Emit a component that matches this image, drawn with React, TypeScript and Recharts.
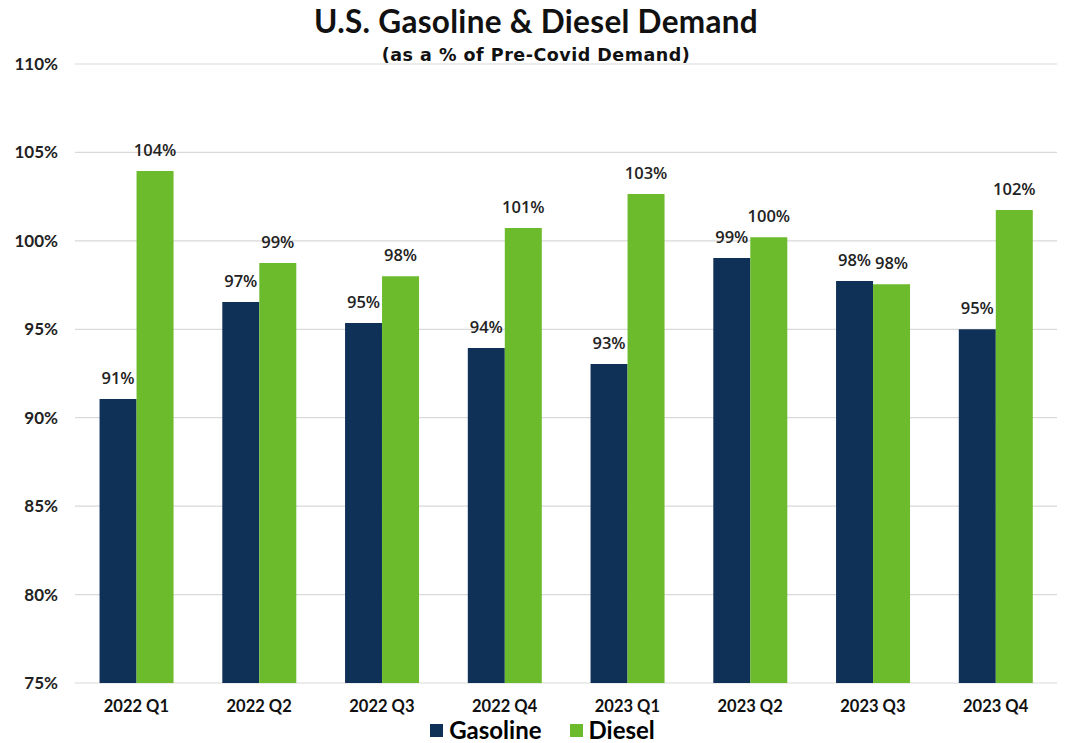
import { Bar, BarChart, CartesianGrid, LabelList, Legend, XAxis, YAxis } from "recharts";

const quarters = ["2022 Q1", "2022 Q2", "2022 Q3", "2022 Q4", "2023 Q1", "2023 Q2", "2023 Q3", "2023 Q4"];
const gasoline = [91.06, 96.54, 95.35, 93.94, 93.04, 99.03, 97.73, 95.0];
const diesel = [103.95, 98.75, 98.0, 100.73, 102.65, 100.2, 97.55, 101.74];
const yTicks = [75, 80, 85, 90, 95, 100, 105, 110];

const NAVY = "#0f3158";
const GREEN = "#6cbb2c";
const AXIS_FONT = "Lato, 'Open Sans', sans-serif";
const LABEL_FONT = "'Open Sans', 'Noto Sans', sans-serif";

const data = quarters.map((q, i) => ({ quarter: q, Gasoline: gasoline[i], Diesel: diesel[i] }));

const pct = (v: unknown) => `${Math.round(Number(v))}%`;

function LegendBox() {
  const items = [
    { name: "Gasoline", color: NAVY },
    { name: "Diesel", color: GREEN },
  ];
  return (
    <div
      style={{
        display: "flex",
        justifyContent: "center",
        alignItems: "flex-end",
        height: 30,
        width: 1072,
        paddingLeft: 13,
        boxSizing: "border-box",
        fontFamily: AXIS_FONT,
        fontWeight: 700,
        fontSize: 24,
        lineHeight: "20px",
        color: "#000",
      }}
    >
      {items.map((it) => (
        <div key={it.name} style={{ display: "flex", alignItems: "center", margin: "0 14px" }}>
          <span style={{ width: 13, height: 13, background: it.color, marginRight: 6, display: "inline-block" }} />
          <span>{it.name}</span>
        </div>
      ))}
    </div>
  );
}

export default function App() {
  return (
    <div style={{ position: "absolute", left: 0, top: 0, width: 1072, height: 743, background: "#fff" }}>
      <div
        style={{
          position: "absolute",
          left: 0,
          top: 3,
          width: 1072,
          textAlign: "center",
          fontWeight: 700,
          color: "#111",
        }}
      >
        <div style={{ fontFamily: AXIS_FONT, fontSize: 31.5, lineHeight: "36px", letterSpacing: 0.3 }}>
          U.S. Gasoline &amp; Diesel Demand
        </div>
        <div
          style={{
            fontFamily: "'DejaVu Sans', sans-serif",
            fontSize: 17.5,
            lineHeight: "20px",
            marginTop: 6,
            letterSpacing: 0.5,
          }}
        >
          (as a % of Pre-Covid Demand)
        </div>
      </div>
      <BarChart
        width={1072}
        height={743}
        data={data}
        margin={{ top: 64, right: 15, left: 0, bottom: 0 }}
        barCategoryGap="20%"
        barGap={0}
      >
        <CartesianGrid vertical={false} stroke="#d9d9d9" strokeWidth={1.2} />
        <XAxis
          dataKey="quarter"
          axisLine={false}
          tickLine={false}
          tickSize={0}
          tickMargin={17}
          height={30}
          tick={{ fill: "#111", fontSize: 16.5, fontFamily: AXIS_FONT, fontWeight: 700 }}
        />
        <YAxis
          domain={[75, 110]}
          ticks={yTicks}
          allowDataOverflow
          width={75}
          axisLine={false}
          tickLine={false}
          tickSize={0}
          tickMargin={17}
          tickFormatter={(v) => `${v}%`}
          tick={{ fill: "#222", fontSize: 17, fontFamily: AXIS_FONT, fontWeight: 700 }}
        />
        <Legend verticalAlign="bottom" content={<LegendBox />} wrapperStyle={{ left: 0, width: 1072, bottom: 3 }} />
        <Bar dataKey="Gasoline" fill={NAVY} isAnimationActive={false}>
          <LabelList
            dataKey="Gasoline"
            position="top"
            offset={15}
            formatter={pct}
            style={{ fill: "#222", fontSize: 16.5, fontFamily: LABEL_FONT, fontWeight: 600 }}
          />
        </Bar>
        <Bar dataKey="Diesel" fill={GREEN} isAnimationActive={false}>
          <LabelList
            dataKey="Diesel"
            position="top"
            offset={15}
            formatter={pct}
            style={{ fill: "#222", fontSize: 16.5, fontFamily: LABEL_FONT, fontWeight: 600 }}
          />
        </Bar>
      </BarChart>
    </div>
  );
}
